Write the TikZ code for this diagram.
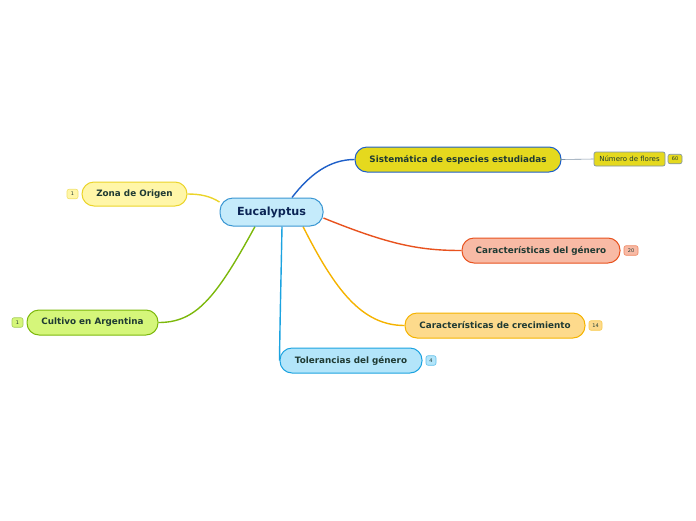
\documentclass[tikz,border=0pt]{standalone}
\usepackage{fontspec}
\setmainfont{DejaVu Sans}
\usetikzlibrary{backgrounds}
\definecolor{txt}{HTML}{1F3A33}
\definecolor{eucF}{HTML}{C5EBFB}\definecolor{eucD}{HTML}{3B97D3}\definecolor{eucT}{HTML}{0B2455}
\definecolor{sisF}{HTML}{E5D91E}\definecolor{sisD}{HTML}{1E5FC8}
\definecolor{numD}{HTML}{7F93A8}
\definecolor{genF}{HTML}{F8BAA5}\definecolor{genD}{HTML}{E8521E}
\definecolor{creF}{HTML}{FDDA8C}\definecolor{creD}{HTML}{F5B300}
\definecolor{tolF}{HTML}{B3E5FA}\definecolor{tolD}{HTML}{1CA3E0}
\definecolor{zonF}{HTML}{FFF6A8}\definecolor{zonD}{HTML}{EBD42A}
\definecolor{culF}{HTML}{D5F67A}\definecolor{culD}{HTML}{7CB80B}
\tikzset{
  topic/.style={draw, line width=1pt, rounded corners=12pt, inner sep=0pt, text=txt,
     font=\fontsize{8.8}{10}\selectfont\bfseries, minimum height=25pt},
  badge/.style={draw, line width=0.6pt, rounded corners=2pt, inner sep=0pt, text=txt,
     font=\fontsize{5}{6}\selectfont, minimum height=9.5pt, minimum width=12pt},
  conn/.style={line width=1.4pt},
}
\begin{document}
\begin{tikzpicture}[x=1pt,y=-1pt]
\useasboundingbox (0,0) rectangle (696,520);
% central
\node[draw=eucD, fill=eucF, line width=1pt, rounded corners=13pt, text=eucT,
  font=\fontsize{11.2}{13}\selectfont\bfseries, minimum width=103pt, minimum height=28pt, inner sep=0pt]
  (euc) at (271.5,212) {Eucalyptus};
% topics
\node[topic, draw=sisD, fill=sisF, minimum width=206pt] (sis) at (458,159.5) {Sistemática de especies estudiadas};
\node[draw=numD, fill=sisF, line width=0.7pt, rounded corners=2pt, inner sep=0pt, minimum width=71pt, minimum height=14pt,
  text=txt, font=\fontsize{7}{8}\selectfont] (num) at (629.5,159) {Número de flores};
\node[badge, draw=numD, fill=sisF, minimum width=14pt] (b60) at (675,159) {60};
\node[topic, draw=genD, fill=genF, minimum width=158pt] (gen) at (541,250.5) {Características del género};
\node[badge, draw=genD!70, fill=genF, minimum width=14pt] (b20) at (631,250.5) {20};
\node[topic, draw=creD, fill=creF, minimum width=180pt] (cre) at (495,325.5) {Características de crecimiento};
\node[badge, draw=creD!70, fill=creF, minimum width=13pt] (b14) at (595.5,325.5) {14};
\node[topic, draw=tolD, fill=tolF, minimum width=142pt] (tol) at (351,360.5) {Tolerancias del género};
\node[badge, draw=tolD!70, fill=tolF, minimum width=10pt] (b4) at (431,360.5) {4};
\node[topic, draw=zonD, fill=zonF, minimum width=105pt, minimum height=24pt] (zon) at (134.5,194) {Zona de Origen};
\node[badge, draw=zonD!70, fill=zonF, minimum width=11pt] (b1a) at (72.5,194) {1};
\node[topic, draw=culD, fill=culF, minimum width=131pt] (cul) at (92.5,322.5) {Cultivo en Argentina};
\node[badge, draw=culD!70, fill=culF, minimum width=11pt] (b1b) at (17.5,322.5) {1};
% connectors
\begin{scope}[on background layer]
\draw[conn, draw=sisD] ([xshift=20.5pt]euc.north) .. controls (310,174) and (330,159.5) .. (sis.west);
\draw[line width=0.6pt, draw=numD] (sis.east) -- (num.west);
\draw[conn, draw=genD] ([yshift=-6pt]euc.east) .. controls (390,245) and (420,250.5) .. (gen.west);
\draw[conn, draw=creD] ([xshift=31.5pt]euc.south) .. controls (335,290) and (362,325.5) .. (cre.west);
\draw[conn, draw=tolD] ([xshift=10.5pt]euc.south) .. controls (281,280) and (280,320) .. (tol.west);
\draw[conn, draw=zonD] ([yshift=10pt]euc.west) .. controls (210,196) and (200,194) .. (zon.east);
\draw[conn, draw=culD] ([xshift=-16.5pt]euc.south) .. controls (215,300) and (195,322.5) .. (cul.east);
\end{scope}
\end{tikzpicture}
\end{document}
